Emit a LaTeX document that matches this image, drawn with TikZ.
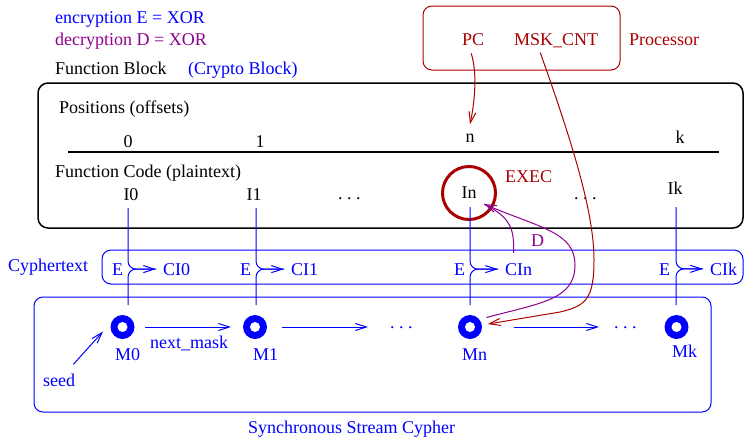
\documentclass[tikz,border=0pt]{standalone}
\usepackage{fontspec}
\setmainfont{Liberation Serif}
\usetikzlibrary{positioning, arrows.meta}
\definecolor{cblue}{RGB}{0,0,255}
\definecolor{cred}{RGB}{170,0,0}
\definecolor{cpurple}{RGB}{144,0,144}

\begin{document}
\begin{tikzpicture}[x=1pt, y=-1pt,
    every node/.style={font=\fontsize{18}{21}\selectfont, inner sep=0pt},
    lbl/.style={anchor=base west},
    clbl/.style={anchor=base},
    frame/.style={rounded corners=10pt, line width=1.5pt},
    bluebox/.style={draw=cblue, rounded corners=9pt, line width=1pt},
    mask/.style={circle, minimum size=24pt, inner sep=0pt, outer sep=0pt},
    arrow/.style={-{Straight Barb[length=11pt, width=7pt]}, line width=1pt},
    wire/.style={cblue, line width=1pt, rounded corners=8pt, shorten >=7pt}]

  \useasboundingbox (0,0) rectangle (744,437);

  % legend
  \node[lbl, cblue] (enc) at (55,23) {encryption E = XOR};
  \node[lbl, cpurple] (dec) at (55,45) {decryption D = XOR};
  \node[lbl] (fblock) at (55,74) {Function Block};
  \node[lbl, cblue] (crypto) at (188,74) {(Crypto Block)};

  % processor
  \draw[cred, rounded corners=9pt, line width=1pt] (423,6) rectangle (620,70);
  \node[lbl, cred] (PC) at (462,45) {PC};
  \node[lbl, cred] (MSK) at (514,45) {MSK\_CNT};
  \node[lbl, cred] (proc) at (629,45) {Processor};

  % function block
  \draw[frame] (38,83) rectangle (743,228);
  \node[lbl] (pos) at (59,113) {Positions (offsets)};
  \node[clbl] (p0) at (128,147) {0};
  \node[clbl] (p1) at (260,147) {1};
  \node[clbl] (pn) at (470,142) {n};
  \node[clbl] (pk) at (680,143) {k};
  \draw[line width=1.2pt] (68,152) -- (719,152);
  \node[lbl] (fcode) at (55,177) {Function Code (plaintext)};
  \node[clbl] (I0) at (131,200) {I0};
  \node[clbl] (I1) at (254,200) {I1};
  \node[lbl] (dotsI1) at (338,199) {.\ .\ .};
  \node[circle, draw=cred, line width=3pt, minimum size=53pt] (In) at (469,193) {In};
  \node[lbl] (dotsI2) at (574,199) {.\ .\ .};
  \node[clbl] (Ik) at (675,194) {Ik};
  \node[lbl, cred] (exec) at (505,182) {EXEC};

  % cyphertext
  \draw[bluebox] (102,250) rectangle (743,284);
  \node[lbl, cblue] (cyph) at (8,271) {Cyphertext};
  \node[lbl, cblue] (E0) at (112,275) {E};
  \node[lbl, cblue] (E1) at (240,275) {E};
  \node[lbl, cblue] (En) at (454,275) {E};
  \node[lbl, cblue] (Ek) at (659,275) {E};
  \node[lbl, cblue] (CI0) at (163,275) {CI0};
  \node[lbl, cblue] (CI1) at (291,275) {CI1};
  \node[lbl, cblue] (CIn) at (505,275) {CIn};
  \node[lbl, cblue] (CIk) at (710,275) {CIk};

  % stream cypher
  \draw[bluebox] (34,297) rectangle (711,412);
  \node[mask] (M0) at (122.5,327) {};
  \node[mask] (M1) at (255,327) {};
  \node[mask] (Mn) at (470,327) {};
  \node[mask] (Mk) at (676.5,327) {};
  \node[lbl, cblue] (M0l) at (115,360) {M0};
  \node[lbl, cblue] (M1l) at (253,360) {M1};
  \node[lbl, cblue] (Mnl) at (462,360) {Mn};
  \node[lbl, cblue] (Mkl) at (672,357) {Mk};
  \node[lbl, cblue] (dotsM1) at (390,328) {.\ .\ .};
  \node[lbl, cblue] (dotsM2) at (614,328) {.\ .\ .};
  \node[lbl, cblue] (next) at (150,348) {next\_mask};
  \node[lbl, cblue] (seed) at (43,386) {seed};
  \node[lbl, cblue] (stream) at (248,433) {Synchronous Stream Cypher};

  % column end points
  \coordinate (t0) at (128,208); \coordinate (b0) at (128,305);
  \coordinate (t1) at (256,208); \coordinate (b1) at (256,305);
  \coordinate (tn) at (470,207); \coordinate (bn) at (470,305);
  \coordinate (tk) at (676,207); \coordinate (bk) at (676,305);
  \coordinate (dtip) at (484,204);

  % encryption wires
  \draw[wire, arrow] (t0) |- (CI0.west);
  \draw[wire] (b0) |- (CI0.west);
  \draw[wire, arrow] (t1) |- (CI1.west);
  \draw[wire] (b1) |- (CI1.west);
  \draw[wire, arrow] (tn) |- (CIn.west);
  \draw[wire] (bn) |- (CIn.west);
  \draw[wire, arrow] (tk) |- (CIk.west);
  \draw[wire] (bk) |- (CIk.west);

  % mask chain
  \draw[arrow, cblue, shorten <=10.5pt, shorten >=12pt] (M0) -- (M1);
  \draw[arrow, cblue, shorten <=15pt, shorten >=22pt] (M1.east) -- (dotsM1.west |- M1.east);
  \draw[arrow, cblue, shorten <=32pt, shorten >=15pt] (Mn.east) -- (dotsM2.west |- Mn.east);
  \draw[arrow, cblue] ([xshift=-2pt, yshift=9pt]seed.north east) -- ([shift={(-11pt,4pt)}]M0.south west);

  % processor links
  \draw[arrow, cred] ([xshift=-2pt, yshift=-8pt]PC.south) .. controls (478,75) and (474,105) .. ([yshift=9pt]pn.north);
  \draw[arrow, cred, shorten >=6pt] ([xshift=-16pt, yshift=-5pt]MSK.south) .. controls (575,150) and (594,215) .. (594,260)
    .. controls (594,300) and (585,306) .. (560,312) -- (Mn);

  % decryption
  \draw[cpurple, line width=1pt] ([xshift=-5pt, yshift=10pt]CIn.north) .. controls (514,230) and (512,218) .. (dtip);
  \draw[arrow, cpurple] ([shift={(8pt,1pt)}]Mn.north east) .. controls (540,303) and (575,300) .. (575,265)
    .. controls (575,232) and (540,228) .. (dtip);
  \node[lbl, cpurple] (D) at (531,246) {D};

  % mask rings
  \fill[cblue] (M0) circle[radius=12pt]; \fill[white] (M0) circle[radius=5pt];
  \fill[cblue] (M1) circle[radius=12pt]; \fill[white] (M1) circle[radius=5pt];
  \fill[cblue] (Mn) circle[radius=12pt]; \fill[white] (Mn) circle[radius=5pt];
  \fill[cblue] (Mk) circle[radius=12pt]; \fill[white] (Mk) circle[radius=5pt];
\end{tikzpicture}
\end{document}
